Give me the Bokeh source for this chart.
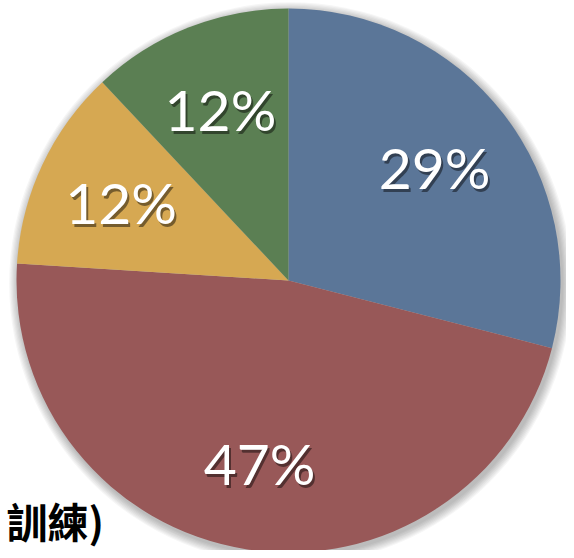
import numpy as np
from bokeh.plotting import figure
from bokeh.models import Range1d, ColumnDataSource
from bokeh.core.properties import value
from bokeh.embed import file_html
from bokeh.resources import INLINE

labels = ["29%", "47%", "12%", "12%"]
values = [29, 47, 12, 12]
colors = ["#5b7698", "#985858", "#d6a852", "#5b7f53"]
footer_text = "訓練)"

W, H = 566, 550
p = figure(width=W, height=H, output_backend="svg", toolbar_location=None,
           x_range=Range1d(0, W), y_range=Range1d(0, H),
           min_border=0, background_fill_color="white", border_fill_color="white")
p.axis.visible = False
p.grid.visible = False
p.outline_line_color = None

cx, cy, R = 288, H - 280, 272

# soft shadow
for k in range(8):
    p.circle(x=cx + 2, y=cy - 3, radius=R + 1 + k * 1.2, fill_color="black",
             fill_alpha=0.035, line_color=None)

vals = np.array(values, dtype=float)
frac = vals / vals.sum()
ends = np.pi / 2 - 2 * np.pi * np.cumsum(frac)
starts = np.concatenate([[np.pi / 2], ends[:-1]])
mids = (starts + ends) / 2

src = ColumnDataSource(dict(start=ends, end=starts, color=colors))
p.wedge(x=cx, y=cy, radius=R, start_angle="start", end_angle="end",
        fill_color="color", line_color=None, source=src)

lr = 0.68 * R
lx = cx + lr * np.cos(mids)
ly = cy + lr * np.sin(mids)
lsrc = ColumnDataSource(dict(x=lx, y=ly, t=labels))
lsh = ColumnDataSource(dict(x=lx + 2, y=ly - 3, t=labels))
p.text(x="x", y="y", text="t", source=lsh, text_font=value("Lato"),
       text_font_size="57px", text_color="black", text_alpha=0.45,
       text_align="center", text_baseline="middle")
p.text(x="x", y="y", text="t", source=lsrc, text_font=value("Lato"),
       text_font_size="57px", text_color="white",
       text_align="center", text_baseline="middle")

p.text(x=[6], y=[H - 519], text=[footer_text], text_font=value("Noto Sans CJK TC"),
       text_font_size="41px", text_font_style="bold", text_color="black",
       text_align="left", text_baseline="middle", text_line_height=1.0)

open("out.html", "w").write(file_html(p, INLINE))
